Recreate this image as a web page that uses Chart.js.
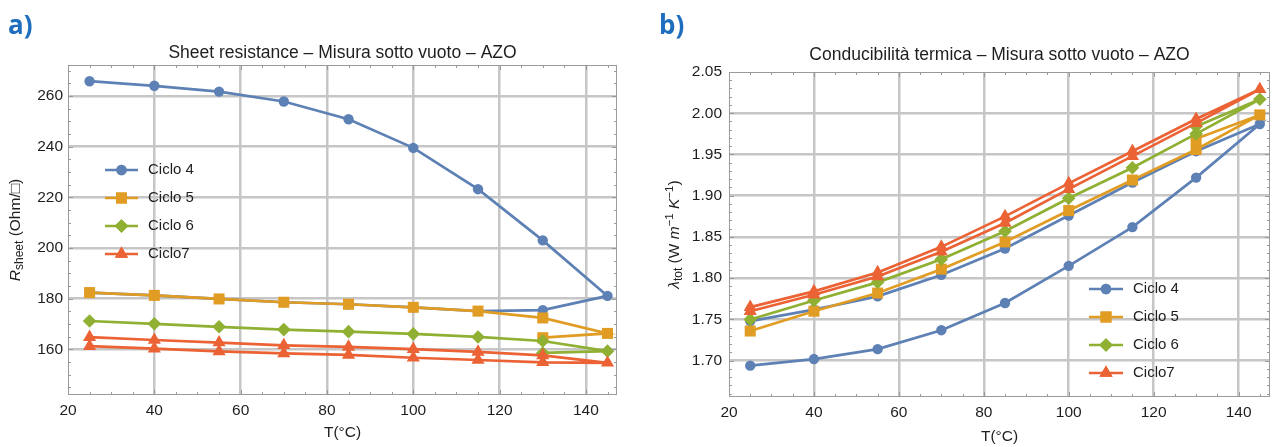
<!DOCTYPE html>
<html>
<head>
<meta charset="utf-8">
<script src="https://cdn.jsdelivr.net/npm/chart.js@4.4.1/dist/chart.umd.min.js"></script>
<style>
  html, body { margin: 0; padding: 0; background: #ffffff; }
  #wrap { position: relative; width: 1277px; height: 447px; overflow: hidden; background: #fff; }
  .panel { position: absolute; top: 0; height: 447px; }
  #panelA { left: 0; width: 640px; }
  #panelB { left: 640px; width: 637px; }
</style>
</head>
<body>
<div id="wrap">
  <div class="panel" id="panelA"><canvas id="chartA" width="640" height="447"></canvas></div>
  <div class="panel" id="panelB"><canvas id="chartB" width="637" height="447"></canvas></div>
</div>
<script>
// Temperature paths: a full cycle (heating 25 -> 145 °C and cooling back to 25 °C)
// and a cycle recorded only up to the first cooling step (145 -> 130 °C)
const tempsFull  = [25, 40, 55, 70, 85, 100, 115, 130, 145, 130, 115, 100, 85, 70, 55, 40, 25];
const tempsShort = [25, 40, 55, 70, 85, 100, 115, 130, 145, 130];

// Sheet resistance (Ohm/sq)
const rsCiclo4 = [265.8, 264.0, 261.7, 257.8, 250.8, 239.5, 223.2, 203.0, 181.1, 175.5, 175.1, 176.6, 177.8, 178.6, 179.9, 181.3, 182.4];
const rsCiclo5 = [182.4, 181.3, 179.9, 178.6, 177.8, 176.6, 175.1, 172.4, 166.3, 164.6];
const rsCiclo6 = [171.2, 170.1, 168.9, 167.8, 167.0, 166.1, 164.9, 163.3, 159.3, 158.6];
const rsCiclo7 = [164.8, 163.7, 162.7, 161.6, 161.0, 160.1, 159.0, 157.6, 154.7, 154.9, 155.8, 156.7, 157.8, 158.4, 159.2, 160.3, 161.3];

// Total thermal conductivity (W m^-1 K^-1)
const lamCiclo4 = [1.694, 1.702, 1.714, 1.737, 1.770, 1.815, 1.862, 1.922, 1.987, 1.954, 1.916, 1.876, 1.836, 1.804, 1.778, 1.762, 1.748];
const lamCiclo5 = [1.736, 1.760, 1.782, 1.811, 1.844, 1.882, 1.919, 1.956, 1.998, 1.969];
const lamCiclo6 = [1.750, 1.773, 1.795, 1.823, 1.857, 1.897, 1.934, 1.975, 2.017, 1.984];
const lamCiclo7 = [1.760, 1.780, 1.802, 1.832, 1.867, 1.908, 1.948, 1.988, 2.029, 1.993, 1.954, 1.915, 1.875, 1.838, 1.807, 1.784, 1.765];

const seriesNames = ['Ciclo 4', 'Ciclo 5', 'Ciclo 6', 'Ciclo7'];

// Tick labels
const tempTicks = [20, 40, 60, 80, 100, 120, 140];
const rsTicks = [160, 180, 200, 220, 240, 260];
const lamTicks = [1.70, 1.75, 1.80, 1.85, 1.90, 1.95, 2.00, 2.05];

const COLORS = ['#5E81B5', '#E19C24', '#8FB032', '#EB6235'];
const MARKERS = [
  { style: 'circle', radius: 5.2 },
  { style: 'rect', radius: 7.8 },
  { style: 'rectRot', radius: 6.8 },
  { style: 'triangle', radius: 7.6 }
];
const FONT = '"Liberation Sans", Arial, Helvetica, sans-serif';
const TEXT = '#1e1e1e';
const GRID = '#c6c6c6';
const FRAME = '#9a9a9a';
const TICK_SIZE = 15.5;

function makeDatasets(list) {
  return list.map((vals, i) => {
    const temps = vals.length === tempsFull.length ? tempsFull : tempsShort;
    return {
      label: seriesNames[i],
      data: temps.map((t, k) => ({ x: t, y: vals[k] })),
      showLine: true,
      borderColor: COLORS[i],
      backgroundColor: COLORS[i],
      borderWidth: 2.7,
      pointStyle: MARKERS[i].style,
      pointRadius: MARKERS[i].radius,
      pointBorderWidth: 0,
      pointBackgroundColor: COLORS[i],
      tension: 0,
      order: list.length - 1 - i   // later cycles are drawn on top
    };
  });
}

// Rich text (italic, sub/superscripts) along a baseline, optionally rotated
function drawRich(ctx, parts, cx, cy, rotate) {
  let total = 0;
  parts.forEach(p => {
    ctx.font = (p.italic ? 'italic ' : '') + p.size + 'px ' + FONT;
    p.w = ctx.measureText(p.t).width;
    total += p.w;
  });
  ctx.save();
  ctx.translate(cx, cy);
  if (rotate) ctx.rotate(-Math.PI / 2);
  ctx.fillStyle = TEXT;
  ctx.textBaseline = 'middle';
  ctx.textAlign = 'left';
  let x = -total / 2;
  parts.forEach(p => {
    ctx.font = (p.italic ? 'italic ' : '') + p.size + 'px ' + FONT;
    ctx.fillText(p.t, x, p.dy || 0);
    x += p.w;
  });
  ctx.restore();
}

// Frame with inward major/minor ticks, panel letter, title, axis titles and inset legend
const decorPlugin = {
  id: 'decor',
  afterDatasetsDraw(chart, args, o) {
    const ctx = chart.ctx;
    const a = chart.chartArea;
    const xs = chart.scales.x, ys = chart.scales.y;
    ctx.save();
    ctx.strokeStyle = FRAME;
    ctx.lineWidth = 1;
    ctx.strokeRect(a.left + 0.5, a.top + 0.5, a.right - a.left - 1, a.bottom - a.top - 1);
    ctx.beginPath();
    const xn = Math.round((xs.max - o.xMinor0) / o.xMinorStep);
    for (let k = 0; k <= xn; k++) {
      const v = o.xMinor0 + k * o.xMinorStep;
      if (v < xs.min - 1e-9 || v > xs.max + 1e-9) continue;
      const major = tempTicks.some(t => Math.abs(t - v) < 1e-9);
      const len = major ? 5 : 3;
      const px = Math.round(xs.getPixelForValue(v)) + 0.5;
      ctx.moveTo(px, a.bottom); ctx.lineTo(px, a.bottom - len);
      ctx.moveTo(px, a.top); ctx.lineTo(px, a.top + len);
    }
    const yn = Math.round((ys.max - o.yMinor0) / o.yMinorStep);
    for (let k = 0; k <= yn; k++) {
      const v = o.yMinor0 + k * o.yMinorStep;
      if (v < ys.min - 1e-9 || v > ys.max + 1e-9) continue;
      const major = o.yTicks.some(t => Math.abs(t - v) < 1e-9);
      const len = major ? 5 : 3;
      const py = Math.round(ys.getPixelForValue(v)) + 0.5;
      ctx.moveTo(a.left, py); ctx.lineTo(a.left + len, py);
      ctx.moveTo(a.right, py); ctx.lineTo(a.right - len, py);
    }
    ctx.stroke();
    ctx.restore();
  },
  afterDraw(chart, args, o) {
    const ctx = chart.ctx;
    const a = chart.chartArea;
    const midX = (a.left + a.right) / 2;
    const midY = (a.top + a.bottom) / 2;
    ctx.save();
    // panel letter
    ctx.fillStyle = '#1F6EBE';
    ctx.font = 'bold 26px "Open Sans", "Liberation Sans", sans-serif';
    ctx.textBaseline = 'middle';
    ctx.textAlign = 'left';
    ctx.fillText(o.letter, o.letterX, 27);
    // title
    ctx.fillStyle = TEXT;
    ctx.font = '17.5px ' + FONT;
    ctx.textAlign = 'center';
    ctx.fillText(o.title, midX, o.titleY);
    // x-axis title
    ctx.font = '15.5px ' + FONT;
    ctx.fillText('T(°C)', midX, o.xTitleY);
    ctx.restore();
    // y-axis title
    drawRich(ctx, o.yTitle, o.yTitleX, midY, true);
    // legend
    ctx.save();
    chart.data.datasets.forEach((ds, i) => {
      const y = o.legendRows[i];
      ctx.strokeStyle = ds.borderColor;
      ctx.lineWidth = ds.borderWidth;
      ctx.beginPath();
      ctx.moveTo(o.legendX1, y);
      ctx.lineTo(o.legendX2, y);
      ctx.stroke();
      ctx.fillStyle = ds.pointBackgroundColor;
      Chart.helpers.drawPoint(ctx, { pointStyle: ds.pointStyle, radius: ds.pointRadius, borderWidth: 0, rotation: 0 }, (o.legendX1 + o.legendX2) / 2, y);
      ctx.fill();
      ctx.fillStyle = TEXT;
      ctx.font = '15px ' + FONT;
      ctx.textAlign = 'left';
      ctx.textBaseline = 'middle';
      ctx.fillText(ds.label, o.legendText, y);
    });
    ctx.restore();
  }
};

function gridColorFor(scale) {
  return (c) => {
    const v = c.tick ? c.tick.value : null;
    if (v === null) return GRID;
    if (Math.abs(v - scale.min) < 1e-9 || Math.abs(v - scale.max) < 1e-9) return 'rgba(0,0,0,0)';
    return GRID;
  };
}

function buildChart(canvasId, datasets, cfg) {
  const xCfg = { min: 20, max: cfg.xMax };
  const yCfg = { min: cfg.yMin, max: cfg.yMax };
  return new Chart(document.getElementById(canvasId), {
    type: 'scatter',
    data: { datasets },
    options: {
      responsive: false,
      devicePixelRatio: 1,
      animation: false,
      events: [],
      layout: { autoPadding: false, padding: { left: 0, right: cfg.padRight, top: cfg.padTop, bottom: 0 } },
      plugins: {
        legend: { display: false },
        title: { display: false },
        tooltip: { enabled: false },
        decor: cfg.decor
      },
      scales: {
        x: {
          type: 'linear',
          min: xCfg.min, max: xCfg.max,
          afterBuildTicks: s => { s.ticks = tempTicks.map(v => ({ value: v })); },
          afterFit: s => { s.height = cfg.xHeight; },
          ticks: { color: TEXT, font: { family: FONT, size: TICK_SIZE }, padding: 6, maxRotation: 0, callback: v => String(v) },
          grid: { color: gridColorFor(xCfg), lineWidth: 2.5, drawTicks: false },
          border: { display: false }
        },
        y: {
          type: 'linear',
          min: yCfg.min, max: yCfg.max,
          afterBuildTicks: s => { s.ticks = cfg.yTicks.map(v => ({ value: v })); },
          afterFit: s => { s.width = cfg.yWidth; },
          ticks: { color: TEXT, font: { family: FONT, size: TICK_SIZE }, padding: cfg.yPad, callback: cfg.yFormat },
          grid: { color: gridColorFor(yCfg), lineWidth: 2.5, drawTicks: false },
          border: { display: false }
        }
      }
    },
    plugins: [decorPlugin]
  });
}

buildChart('chartA', makeDatasets([rsCiclo4, rsCiclo5, rsCiclo6, rsCiclo7]), {
  xMax: 147.2, yMin: 142, yMax: 272.2,
  padRight: 23, padTop: 65, xHeight: 52, yWidth: 68, yPad: 5,
  yTicks: rsTicks,
  yFormat: v => String(v),
  decor: {
    letter: 'a)', letterX: 8,
    title: 'Sheet resistance – Misura sotto vuoto – AZO', titleY: 53,
    xTitleY: 433,
    yTitleX: 16,
    yTitle: [
      { t: 'R', size: 15.5, italic: true },
      { t: 'sheet', size: 12, dy: 4 },
      { t: ' (Ohm/□)', size: 15.5 }
    ],
    xMinor0: 20, xMinorStep: 5,
    yMinor0: 145, yMinorStep: 5, yTicks: rsTicks,
    legendX1: 105, legendX2: 138, legendText: 148,
    legendRows: [170, 198, 226, 254]
  }
});

buildChart('chartB', makeDatasets([lamCiclo4, lamCiclo5, lamCiclo6, lamCiclo7]), {
  xMax: 147.4, yMin: 1.656, yMax: 2.05,
  padRight: 7, padTop: 72, xHeight: 50, yWidth: 89, yPad: 7,
  yTicks: lamTicks,
  yFormat: v => Number(v).toFixed(2),
  decor: {
    letter: 'b)', letterX: 19,
    title: 'Conducibilità termica – Misura sotto vuoto – AZO', titleY: 55,
    xTitleY: 437,
    yTitleX: 35,
    yTitle: [
      { t: 'λ', size: 15.5, italic: true },
      { t: 'tot', size: 12, dy: 4 },
      { t: ' (W ', size: 15.5 },
      { t: 'm', size: 15.5, italic: true },
      { t: '−1', size: 11.5, dy: -5 },
      { t: ' ', size: 15.5 },
      { t: 'K', size: 15.5, italic: true },
      { t: '−1', size: 11.5, dy: -5 },
      { t: ')', size: 15.5 }
    ],
    xMinor0: 20, xMinorStep: 5,
    yMinor0: 1.66, yMinorStep: 0.01, yTicks: lamTicks,
    legendX1: 449, legendX2: 483, legendText: 493,
    legendRows: [289, 317, 345, 373]
  }
});
</script>
</body>
</html>
